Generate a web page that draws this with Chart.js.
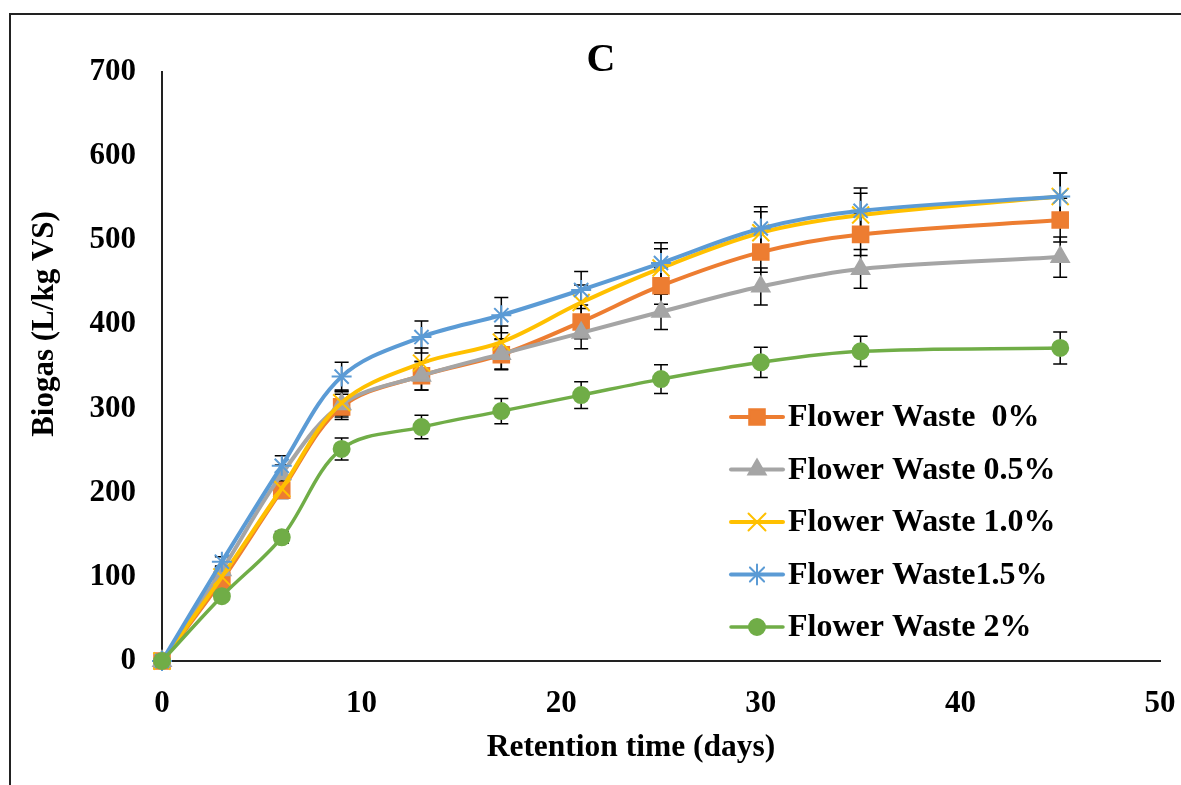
<!DOCTYPE html>
<html>
<head>
  <title>Biogas C</title>
  <style>
    html, body { margin: 0; padding: 0; background: #ffffff; }
    #wrap { width: 1181px; height: 785px; }
  </style>
  <script src="https://cdn.jsdelivr.net/npm/chart.js"></script>
</head>
<body>
  <div id="wrap"><canvas id="myChart" width="1181" height="785"></canvas></div>

  <script>
    // retention time (days)
    var days = [0, 3, 6, 9, 13, 17, 21, 25, 30, 35, 45];

    var fw0 = [0, 96, 203, 302, 339, 364, 403, 446, 486, 507, 524];
    var fw0Err = [0, 5, 10, 15, 17, 18, 20, 22, 24, 25, 26];
    var fw05 = [0, 108, 222, 305, 339, 365, 390, 415, 445, 466, 480];
    var fw05Err = [0, 5, 11, 15, 17, 18, 19, 21, 22, 23, 24];
    var fw10 = [0, 100, 205, 307, 354, 379, 426, 467, 509, 530, 552];
    var fw10Err = [0, 5, 10, 15, 18, 19, 21, 23, 25, 26, 28];
    var fw15 = [0, 118, 232, 338, 385, 411, 441, 473, 514, 535, 552];
    var fw15Err = [0, 6, 12, 17, 19, 21, 22, 24, 26, 27, 28];
    var fw2 = [0, 77, 147, 252, 278, 297, 316, 335, 355, 368, 372];
    var fw2Err = [0, 4, 7, 13, 14, 15, 16, 17, 18, 18, 19];

    var seriesNames = ["Flower Waste  0%", "Flower Waste 0.5%", "Flower Waste 1.0%", "Flower Waste1.5%", "Flower Waste 2%"];
    var xTicks = [0, 10, 20, 30, 40, 50];
    var yTicks = [0, 100, 200, 300, 400, 500, 600, 700];
    var xTitle = "Retention time (days)";
    var yTitle = "Biogas (L/kg VS)";
    var chartTitle = "C";

    var serif = "'Liberation Serif', 'Times New Roman', serif";

    function pts(vals) {
      return vals.map(function (v, i) { return { x: days[i], y: v }; });
    }

    function makeSet(i, vals, errs, color, style, radius, width, order) {
      return {
        label: seriesNames[i],
        data: pts(vals),
        errors: errs,
        borderColor: color,
        backgroundColor: color,
        borderWidth: width,
        pointStyle: style,
        pointRadius: radius,
        pointBorderColor: color,
        pointBackgroundColor: color,
        pointBorderWidth: 2,
        tension: 0.35,
        clip: false,
        order: order
      };
    }

    var datasets = [
      makeSet(0, fw0, fw0Err, "#ED7D31", "rect", 11, 4, 5),
      makeSet(1, fw05, fw05Err, "#A5A5A5", "triangle", 10, 4, 4),
      makeSet(2, fw10, fw10Err, "#FFC000", "crossRot", 12, 4, 3),
      makeSet(3, fw15, fw15Err, "#5B9BD5", "star", 10, 4, 2),
      makeSet(4, fw2, fw2Err, "#70AD47", "circle", 8, 3.5, 1)
    ];

    // white page, partial frame, title and axis titles
    var framePlugin = {
      id: "frame",
      beforeDraw: function (chart) {
        var c = chart.ctx;
        c.save();
        c.fillStyle = "#ffffff";
        c.fillRect(0, 0, chart.width, chart.height);
        c.strokeStyle = "#222222";
        c.lineWidth = 2;
        c.beginPath();
        c.moveTo(10, chart.height);
        c.lineTo(10, 14);
        c.lineTo(chart.width, 14);
        c.stroke();
        c.fillStyle = "#000000";
        c.textAlign = "center";
        c.textBaseline = "middle";
        c.font = "bold 40px " + serif;
        c.fillText(chartTitle, 601, 61);
        c.font = "bold 31.5px " + serif;
        c.fillText(xTitle, 631, 748);
        c.translate(45, 324);
        c.rotate(-Math.PI / 2);
        c.font = "bold 31px " + serif;
        c.fillText(yTitle, 0, 0);
        c.restore();
      }
    };

    var errorBars = {
      id: "errorBars",
      beforeDatasetsDraw: function (chart) {
        var c = chart.ctx;
        var ys = chart.scales.y, xs = chart.scales.x;
        c.save();
        c.strokeStyle = "#000000";
        c.lineWidth = 1.5;
        chart.data.datasets.forEach(function (ds) {
          ds.data.forEach(function (p, i) {
            var e = ds.errors[i];
            if (!e) return;
            var px = xs.getPixelForValue(p.x);
            var top = ys.getPixelForValue(p.y + e);
            var bot = ys.getPixelForValue(p.y - e);
            c.beginPath();
            c.moveTo(px, top); c.lineTo(px, bot);
            c.moveTo(px - 7, top); c.lineTo(px + 7, top);
            c.moveTo(px - 7, bot); c.lineTo(px + 7, bot);
            c.stroke();
          });
        });
        c.restore();
      }
    };

    var insideLegend = {
      id: "insideLegend",
      afterDraw: function (chart) {
        var c = chart.ctx;
        c.save();
        chart.data.datasets.forEach(function (ds, i) {
          var y = 417 + i * 52.5;
          c.strokeStyle = ds.borderColor;
          c.lineWidth = ds.borderWidth;
          c.lineCap = "round";
          c.beginPath();
          c.moveTo(731, y); c.lineTo(783, y);
          c.stroke();
          c.fillStyle = ds.pointBackgroundColor;
          c.strokeStyle = ds.pointBorderColor;
          c.lineWidth = 2;
          Chart.helpers.drawPoint(c, { pointStyle: ds.pointStyle, radius: ds.pointRadius, borderWidth: 2, rotation: 0 }, 757, y);
          c.fillStyle = "#000000";
          c.font = "bold 32px " + serif;
          c.textAlign = "left";
          c.textBaseline = "middle";
          c.fillText(ds.label, 788, y + 1);
        });
        c.restore();
      }
    };

    var ctx = document.getElementById("myChart").getContext("2d");
    var myChart = new Chart(ctx, {
      type: "line",
      data: { datasets: datasets },
      plugins: [framePlugin, errorBars, insideLegend],
      options: {
        responsive: false,
        animation: false,
        layout: { padding: { left: 0, top: 72, right: 21, bottom: 0 } },
        plugins: {
          legend: { display: false },
          title: { display: false },
          tooltip: { enabled: false }
        },
        scales: {
          x: {
            type: "linear",
            min: 0,
            max: 50,
            afterBuildTicks: function (s) { s.ticks = xTicks.map(function (v) { return { value: v }; }); },
            afterFit: function (s) { s.height = 124; s.paddingLeft = 0; s.paddingRight = 0; },
            grid: { display: false, drawTicks: false },
            border: { display: true, color: "#222222", width: 2 },
            ticks: {
              color: "#000000",
              padding: 24,
              maxRotation: 0,
              font: { family: serif, size: 31, weight: "bold" }
            }
          },
          y: {
            min: 0,
            max: 700,
            afterBuildTicks: function (s) { s.ticks = yTicks.map(function (v) { return { value: v }; }); },
            afterFit: function (s) { s.width = 162; s.paddingTop = 0; s.paddingBottom = 0; },
            grid: { display: false, drawTicks: false },
            border: { display: true, color: "#222222", width: 2 },
            ticks: {
              color: "#000000",
              padding: 26,
              font: { family: serif, size: 31, weight: "bold" }
            }
          }
        }
      }
    });
  </script>
</body>
</html>
